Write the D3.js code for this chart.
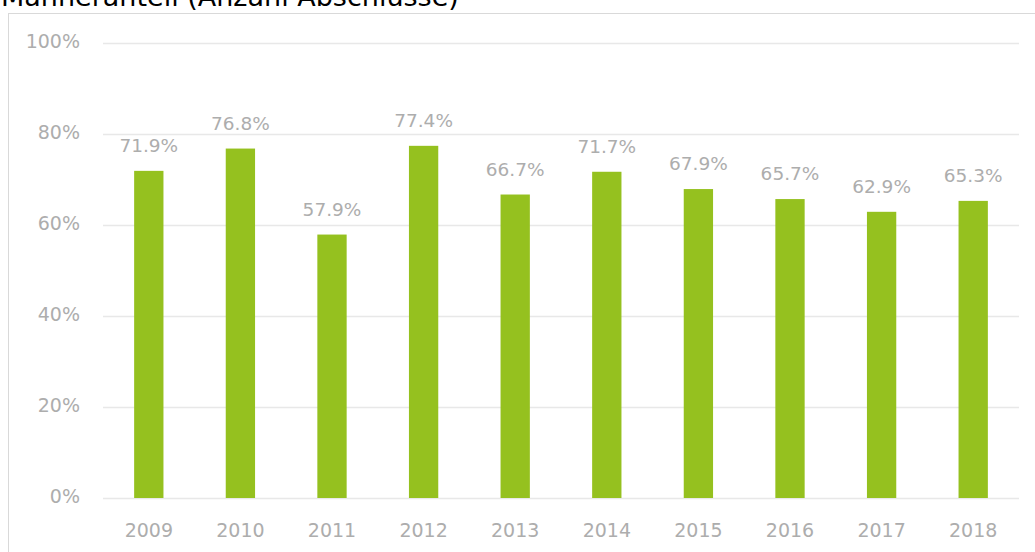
<!DOCTYPE html>
<html>
<head>
<meta charset="utf-8">
<script src="https://cdn.jsdelivr.net/npm/d3@7"></script>
<style>
  body { margin: 0; background: #fff; }
  svg { display: block; }
</style>
</head>
<body>
<div id="chart"></div>
<script>
// data
var years = ["2009", "2010", "2011", "2012", "2013", "2014", "2015", "2016", "2017", "2018"];
var shares = [71.9, 76.8, 57.9, 77.4, 66.7, 71.7, 67.9, 65.7, 62.9, 65.3];
var yTicks = [0, 20, 40, 60, 80, 100];
var title = "Männeranteil (Anzahl Abschlüsse)";

var W = 1035, H = 552;
var margin = {top: 43, right: 16, bottom: 54, left: 103};
var width = W - margin.left - margin.right,
    height = H - margin.top - margin.bottom;

var svg = d3.select("#chart").append("svg")
    .attr("width", W)
    .attr("height", H);

// chart area border (runs off right and bottom)
svg.append("rect")
    .attr("x", 8.5).attr("y", 13.5)
    .attr("width", W + 20).attr("height", H + 20)
    .attr("fill", "none")
    .attr("stroke", "#d9d9d9");

// title, partly cut off at the top
svg.append("text")
    .attr("x", 1).attr("y", 6)
    .style("font-family", "Verdana, 'DejaVu Sans', sans-serif")
    .style("font-size", "27px")
    .attr("fill", "#000")
    .text(title);

var g = svg.append("g")
    .attr("transform", "translate(" + margin.left + "," + margin.top + ")");

var x = d3.scaleBand()
    .domain(years)
    .range([0, width])
    .paddingInner(0.68)
    .paddingOuter(0.34);

var y = d3.scaleLinear()
    .domain([0, 100])
    .range([height, 0]);

var font = "Verdana, 'DejaVu Sans', sans-serif";
var grey = "#adadad";

// gridlines + y labels
var yAxis = g.append("g")
    .call(d3.axisLeft(y).tickValues(yTicks).tickSize(-width).tickFormat(function(d) { return d + "%"; }));
yAxis.select(".domain").remove();
yAxis.selectAll(".tick line").attr("stroke", "#e8e8e8").attr("stroke-width", 1.5);
yAxis.selectAll(".tick text")
    .attr("x", -23)
    .attr("dy", "0.22em")
    .attr("fill", grey)
    .style("font-family", font)
    .style("font-size", "19px");

// x labels
var xAxis = g.append("g")
    .attr("transform", "translate(0," + height + ")")
    .call(d3.axisBottom(x).tickSize(0));
xAxis.select(".domain").remove();
xAxis.selectAll(".tick text")
    .attr("y", 39)
    .attr("dy", 0)
    .attr("fill", grey)
    .style("font-family", font)
    .style("font-size", "19px");

// bars
g.selectAll("rect.bar")
    .data(shares)
    .enter()
    .append("rect")
    .attr("class", "bar")
    .attr("x", function(d, i) { return x(years[i]); })
    .attr("y", function(d) { return y(d); })
    .attr("width", x.bandwidth())
    .attr("height", function(d) { return height - y(d); })
    .attr("fill", "#95c11f");

// value labels
g.selectAll("text.val")
    .data(shares)
    .enter()
    .append("text")
    .attr("class", "val")
    .attr("x", function(d, i) { return x(years[i]) + x.bandwidth() / 2; })
    .attr("y", function(d) { return y(d) - 19; })
    .attr("text-anchor", "middle")
    .attr("fill", grey)
    .style("font-family", font)
    .style("font-size", "18.5px")
    .text(function(d) { return d.toFixed(1) + "%"; });
</script>
</body>
</html>
